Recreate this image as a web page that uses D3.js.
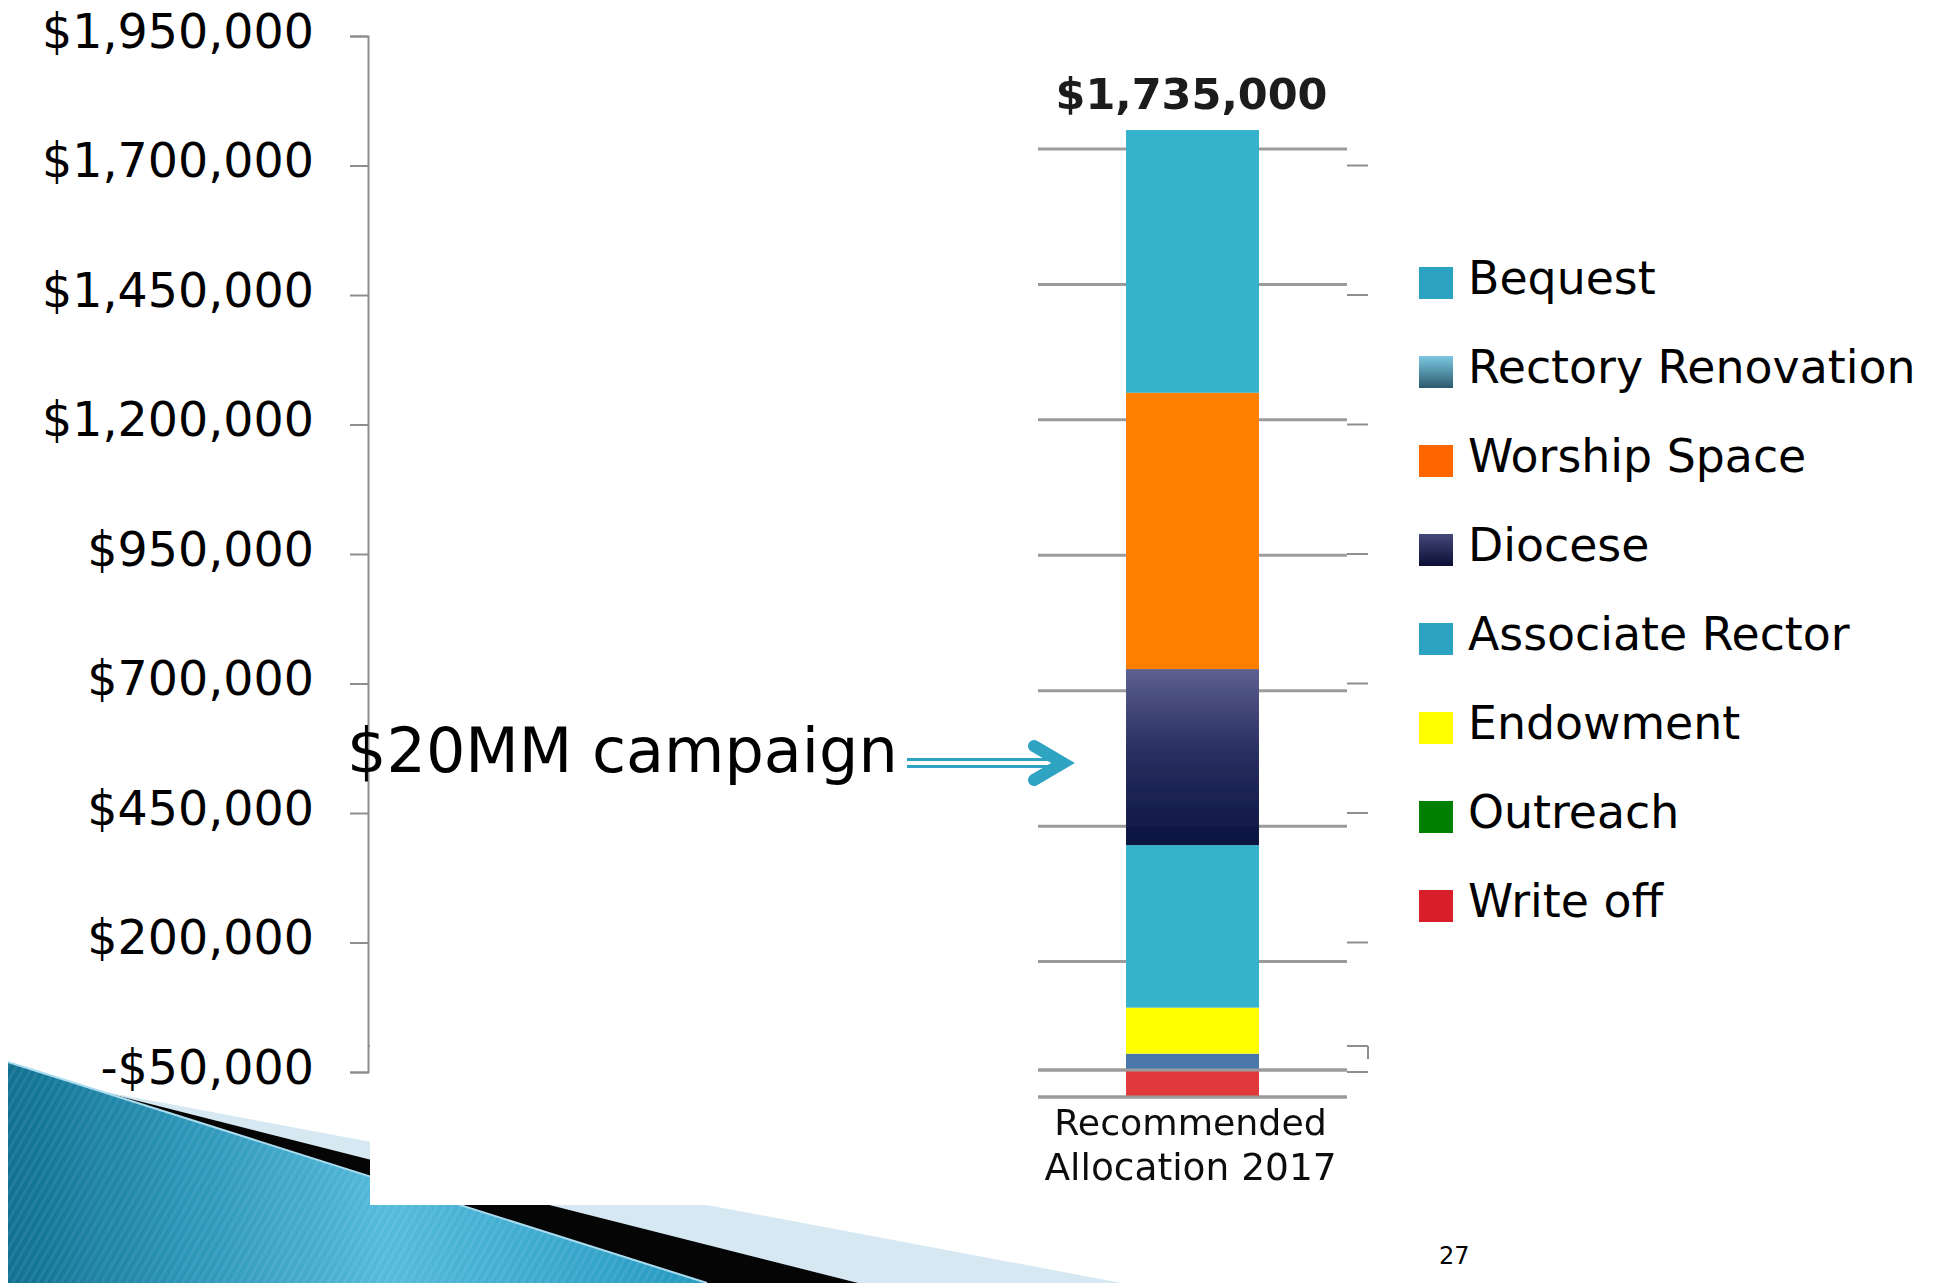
<!DOCTYPE html>
<html>
<head>
<meta charset="utf-8">
<script src="https://cdn.jsdelivr.net/npm/d3@7"></script>
<style>
  html, body { margin: 0; padding: 0; background: #fff; }
  svg { display: block; }
  text { font-family: "DejaVu Sans", Verdana, sans-serif; }
</style>
</head>
<body>
<svg id="slide" width="1937" height="1283"></svg>
<script>
// ---- data ----
const categories = ["Recommended Allocation 2017"];
const seriesNames = ["Bequest", "Rectory Renovation", "Worship Space", "Diocese",
                     "Associate Rector", "Endowment", "Outreach", "Write off"];
const seriesValues = [485000, 30000, 510000, 325000, 300000, 85000, 0, -50000];
// bottom-to-top order of the stacked segments
const stackOrder = ["Rectory Renovation", "Endowment", "Associate Rector", "Diocese",
                    "Worship Space", "Bequest", "Outreach", "Write off"];
const totalLabel = "$1,735,000";
const yTickValues = [1950000, 1700000, 1450000, 1200000, 950000, 700000, 450000, 200000, -50000];
const yTickLabels = ["$1,950,000", "$1,700,000", "$1,450,000", "$1,200,000", "$950,000",
                     "$700,000", "$450,000", "$200,000", "-$50,000"];
const gridValues = [-50000, 0, 200000, 450000, 700000, 950000, 1200000, 1450000, 1700000];
const annotation = "$20MM campaign";
const pageNumber = "27";

const barColors = {
  "Bequest": "#35b2cc", "Rectory Renovation": "#4a77a9", "Worship Space": "#ff7f00",
  "Diocese": "url(#dioceseBar)", "Associate Rector": "#35b2cc", "Endowment": "#ffff00",
  "Outreach": "#008000", "Write off": "#e0383a"
};
const legendColors = {
  "Bequest": "#2ca3c1", "Rectory Renovation": "url(#rectorySwatch)", "Worship Space": "#ff6600",
  "Diocese": "url(#dioceseSwatch)", "Associate Rector": "#2ca3c1", "Endowment": "#ffff00",
  "Outreach": "#008000", "Write off": "#d9202a"
};

const svg = d3.select("#slide");
const defs = svg.append("defs");

function vGradient(id, stops) {
  const g = defs.append("linearGradient").attr("id", id)
    .attr("x1", 0).attr("y1", 0).attr("x2", 0).attr("y2", 1);
  stops.forEach(([o, c]) => g.append("stop").attr("offset", o).attr("stop-color", c));
}
vGradient("dioceseBar", [[0, "#5d6090"], [0.45, "#2a3062"], [1, "#0c1440"]]);
vGradient("dioceseSwatch", [[0, "#45487a"], [1, "#0b0e33"]]);
vGradient("rectorySwatch", [[0, "#7cc8e2"], [1, "#2b5a6c"]]);

const blueGrad = defs.append("linearGradient").attr("id", "wedgeBlue")
  .attr("gradientUnits", "userSpaceOnUse")
  .attr("x1", 0).attr("y1", 1283).attr("x2", 707).attr("y2", 1283);
[[0, "#0f6f8f"], [0.25, "#2a93b6"], [0.55, "#55bbdc"], [1, "#2498bf"]]
  .forEach(([o, c]) => blueGrad.append("stop").attr("offset", o).attr("stop-color", c));

const stripes = defs.append("pattern").attr("id", "stripes")
  .attr("patternUnits", "userSpaceOnUse").attr("width", 7).attr("height", 7)
  .attr("patternTransform", "rotate(30)");
stripes.append("rect").attr("width", 3).attr("height", 7).attr("fill", "#ffffff").attr("opacity", 0.07);

const soft = defs.append("filter").attr("id", "soft");
soft.append("feGaussianBlur").attr("stdDeviation", 0.7);

// ---- corner decoration ----
const deco = svg.append("g");
deco.append("polygon").attr("points", "95,1090 1122,1283 8,1283").attr("fill", "#d6e9f2");
deco.append("polygon").attr("points", "95,1090 858,1283 8,1283").attr("fill", "#050505");
deco.append("polygon").attr("points", "8,1062 707,1283 8,1283").attr("fill", "url(#wedgeBlue)");
deco.append("polygon").attr("points", "8,1062 707,1283 8,1283").attr("fill", "url(#stripes)");
deco.append("line").attr("x1", 8).attr("y1", 1062).attr("x2", 707).attr("y2", 1283)
  .attr("stroke", "#a9dcee").attr("stroke-width", 2);

// ---- value axis ----
const yAxisScale = d3.scaleLinear().domain([-50000, 1950000]).range([1072, 36]);
const axisColor = "#8e8e8e";

const leftAxis = svg.append("g").attr("transform", "translate(368,0)")
  .call(d3.axisLeft(yAxisScale).tickValues(yTickValues).tickSize(18).tickPadding(36)
        .tickFormat((d, i) => yTickLabels[i]));
leftAxis.select(".domain").attr("stroke", axisColor).attr("stroke-width", 2);
leftAxis.selectAll(".tick line").attr("stroke", axisColor).attr("stroke-width", 2);
leftAxis.selectAll(".tick text")
  .attr("fill", "#000").attr("font-size", 47.5)
  .attr("font-family", "'DejaVu Sans', Verdana, sans-serif")
  .attr("dy", "0.24em");

// category axis at zero, with its end tick
const plot = svg.append("g").attr("stroke", axisColor).attr("stroke-width", 2).attr("fill", "none");
plot.append("line").attr("x1", 368).attr("x2", 1368)
  .attr("y1", yAxisScale(0)).attr("y2", yAxisScale(0));
plot.append("line").attr("x1", 1368).attr("x2", 1368)
  .attr("y1", yAxisScale(0)).attr("y2", yAxisScale(0) + 13);
plot.selectAll("line.rt").data(yTickValues.slice(1)).join("line").attr("class", "rt")
  .attr("x1", 1347).attr("x2", 1368)
  .attr("y1", d => yAxisScale(d)).attr("y2", d => yAxisScale(d));

// pasted chart panel
svg.append("rect").attr("x", 370).attr("y", 0).attr("width", 977).attr("height", 1205)
  .attr("fill", "#fff");

// ---- stacked bar ----
const yInset = d3.scaleLinear().domain([-50000, 1700000]).range([1097, 149]);
const x = d3.scaleBand().domain(categories).range([1038, 1347]).paddingInner(0).paddingOuter(0.662);

const row = { category: categories[0] };
seriesNames.forEach((n, i) => { row[n] = seriesValues[i]; });
const stacked = d3.stack().keys(stackOrder).offset(d3.stackOffsetDiverging)([row]);

const inset = svg.append("g").attr("filter", "url(#soft)");
const gridColor = "#9b9b9b";
inset.selectAll("line.grid").data(gridValues).join("line").attr("class", "grid")
  .attr("x1", 1038).attr("x2", 1347)
  .attr("y1", d => yInset(d)).attr("y2", d => yInset(d))
  .attr("stroke", gridColor).attr("stroke-width", 3);

inset.selectAll("g.series").data(stacked).join("g").attr("class", "series")
  .attr("fill", s => barColors[s.key])
  .selectAll("rect").data(s => s.filter(d => d[1] !== d[0])).join("rect")
  .attr("x", d => x(d.data.category))
  .attr("width", x.bandwidth())
  .attr("y", d => yInset(Math.max(d[0], d[1])))
  .attr("height", d => Math.abs(yInset(d[0]) - yInset(d[1])));

// zero line and base line sit over the bar
inset.selectAll("line.base").data([0, -50000]).join("line").attr("class", "base")
  .attr("x1", 1038).attr("x2", 1347)
  .attr("y1", d => yInset(d)).attr("y2", d => yInset(d))
  .attr("stroke", gridColor).attr("stroke-width", 3);

const total = d3.sum(seriesValues.filter(v => v > 0));
const barCenter = x(categories[0]) + x.bandwidth() / 2;
inset.append("text").attr("x", barCenter - 1).attr("y", yInset(total) - 21)
  .attr("text-anchor", "middle").attr("font-weight", "bold").attr("font-size", 43)
  .attr("fill", "#1a1a1a").text(totalLabel);

const catWords = ["Recommended", "Allocation 2017"];
inset.selectAll("text.cat").data(catWords).join("text").attr("class", "cat")
  .attr("x", barCenter - 2).attr("y", (d, i) => 1135 + i * 45)
  .attr("text-anchor", "middle").attr("font-size", (d, i) => i ? 37.5 : 36.3).attr("fill", "#111")
  .text(d => d);

// ---- annotation with arrow ----
svg.append("text").attr("x", 347).attr("y", 772).attr("font-size", 62).attr("fill", "#000")
  .text(annotation);
const arrowColor = "#2fa3c2";
const arrow = svg.append("g").attr("stroke", arrowColor).attr("fill", "none");
[759.5, 766.5].forEach(yy => arrow.append("line")
  .attr("x1", 907).attr("x2", 1054).attr("y1", yy).attr("y2", yy).attr("stroke-width", 3));
arrow.append("polyline").attr("points", "1034,746 1063,763 1034,780")
  .attr("stroke-width", 12).attr("stroke-linecap", "round").attr("stroke-linejoin", "miter");

// ---- legend ----
const legend = svg.append("g").selectAll("g").data(seriesNames).join("g")
  .attr("transform", (d, i) => `translate(1419,${267 + i * 89})`);
legend.append("rect").attr("width", 34).attr("height", 32).attr("fill", d => legendColors[d]);
legend.append("text").attr("x", 49).attr("y", 27).attr("font-size", 45.8).attr("fill", "#000")
  .text(d => d);

// ---- page number ----
svg.append("text").attr("x", 1439).attr("y", 1264).attr("font-size", 24).attr("fill", "#000")
  .text(pageNumber);
</script>
</body>
</html>
